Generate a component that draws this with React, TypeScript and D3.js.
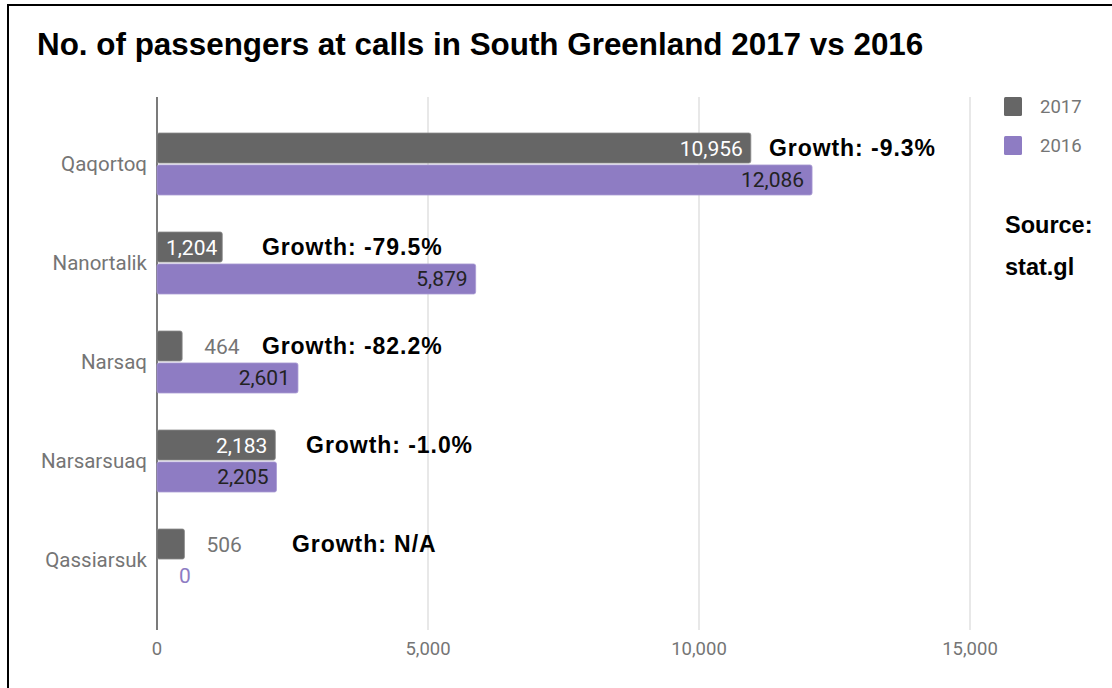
import React from "react";
import * as d3 from "d3";

const categories = ["Qaqortoq", "Nanortalik", "Narsaq", "Narsarsuaq", "Qassiarsuk"];
const series = ["2017", "2016"];
const values2017 = [10956, 1204, 464, 2183, 506];
const values2016 = [12086, 5879, 2601, 2205, 0];
const xTicks = [0, 5000, 10000, 15000];
// x position (in data units) of the "Growth" annotations
const growthLabelX = [11290, 1935, 1935, 2750, 2490];
const colors = ["#666666", "#8e7cc3"];
const title = "No. of passengers at calls in South Greenland 2017 vs 2016";

const W = 1112;
const H = 688;

export default function App() {
  const x = d3.scaleLinear().domain([0, 15000]).range([157, 970]);
  const y = d3
    .scaleBand<string>()
    .domain(categories)
    .range([114.5, 609.5])
    .paddingInner(0.374)
    .paddingOuter(0.187);
  const sub = d3.scaleBand<string>().domain(series).range([0, y.bandwidth()]).paddingInner(0.06);
  const fmt = d3.format(",");
  const valuesBy = [values2017, values2016];

  const growth = categories.map((_, i) => {
    const a = values2017[i];
    const b = values2016[i];
    if (!b) return "Growth: N/A";
    return "Growth: " + d3.format(".1f")(((a - b) / b) * 100).replace("\u2212", "-") + "%";
  });

  const labelFont = "Roboto, 'Noto Sans', sans-serif";
  const boldFont = "'Liberation Sans', Arial, sans-serif";

  return (
    <svg
      width={W}
      height={H}
      style={{ position: "absolute", left: 0, top: 0, background: "#fff" }}
    >
      {/* frame */}
      <line x1={7} x2={W} y1={5} y2={5} stroke="#000" strokeWidth={2} />
      <line x1={8} x2={8} y1={4} y2={H} stroke="#000" strokeWidth={2} />

      <text x={37} y={55} fontFamily={boldFont} fontWeight="bold" fontSize={31.4} fill="#000">
        {title}
      </text>

      {/* gridlines */}
      {xTicks.map((t) => (
        <line
          key={t}
          x1={x(t)}
          x2={x(t)}
          y1={97}
          y2={630}
          stroke={t === 0 ? "#333" : "#d9d9d9"}
          strokeWidth={t === 0 ? 1.3 : 1.2}
        />
      ))}
      {xTicks.map((t) => (
        <text
          key={"t" + t}
          x={x(t)}
          y={655}
          textAnchor="middle"
          fontFamily={labelFont}
          fontSize={18.5}
          fill="#757575"
        >
          {fmt(t)}
        </text>
      ))}

      {/* category labels */}
      {categories.map((c) => (
        <text
          key={c}
          x={147}
          y={(y(c) as number) + y.bandwidth() / 2 + 7}
          textAnchor="end"
          fontFamily={labelFont}
          fontSize={20.5}
          fill="#757575"
        >
          {c}
        </text>
      ))}

      {/* bars */}
      {categories.map((c, i) =>
        series.map((s, j) => {
          const v = valuesBy[j][i];
          const y0 = (y(c) as number) + (sub(s) as number);
          const h = sub.bandwidth();
          const x1 = x(v);
          const w = x1 - x(0);
          const inside = w > 60;
          return (
            <g key={c + s}>
              {v > 0 && (
                <rect
                  x={x(0)}
                  y={y0}
                  width={w}
                  height={h}
                  rx={2}
                  fill={colors[j]}
                  stroke={j === 0 ? "#8a8a8a" : "#a89ad3"}
                  strokeWidth={0.8}
                />
              )}
              <text
                x={inside ? x1 - (w < 80 ? 5 : 8) : x1 + 22}
                y={y0 + h / 2 + 7.5}
                textAnchor={inside ? "end" : "start"}
                fontFamily={labelFont}
                fontSize={21}
                fill={inside ? (j === 0 ? "#ffffff" : "#222222") : j === 0 ? "#757575" : colors[1]}
              >
                {fmt(v)}
              </text>
            </g>
          );
        })
      )}

      {/* growth annotations */}
      {categories.map((c, i) => (
        <text
          key={"g" + c}
          x={x(growthLabelX[i])}
          y={(y(c) as number) + sub.bandwidth() / 2 + 8}
          fontFamily={boldFont}
          fontWeight="bold"
          fontSize={23}
          letterSpacing={0.95}
          fill="#000"
        >
          {growth[i]}
        </text>
      ))}

      {/* legend */}
      {series.map((s, j) => (
        <g key={"l" + s}>
          <rect x={1004} y={97 + j * 39} width={18} height={19} rx={1.5} fill={colors[j]} />
          <text
            x={1040}
            y={113 + j * 39}
            fontFamily={labelFont}
            fontSize={18.5}
            fill="#757575"
          >
            {s}
          </text>
        </g>
      ))}

      <text x={1005} y={233} fontFamily={boldFont} fontWeight="bold" fontSize={23.5} fill="#000">
        Source:
      </text>
      <text x={1005} y={275} fontFamily={boldFont} fontWeight="bold" fontSize={23.5} fill="#000">
        stat.gl
      </text>
    </svg>
  );
}
